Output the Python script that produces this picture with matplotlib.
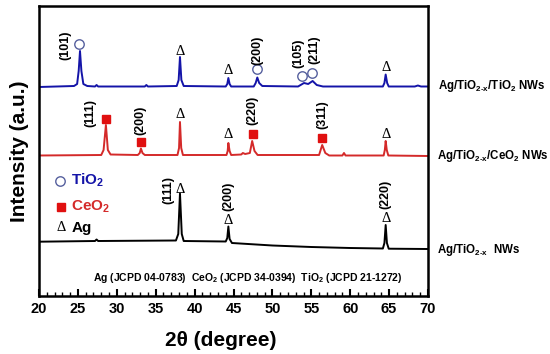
import matplotlib
matplotlib.use("Agg")
import matplotlib.pyplot as plt

plt.rcParams['font.family'] = ['Liberation Sans', 'DejaVu Sans']
plt.rcParams['font.weight'] = 'bold'
plt.rcParams['mathtext.fontset'] = 'custom'
plt.rcParams['mathtext.rm'] = 'Liberation Sans:bold'
plt.rcParams['mathtext.it'] = 'Liberation Sans:bold'
plt.rcParams['mathtext.bf'] = 'Liberation Sans:bold'

# ---------------- data (2theta in degree, intensity in a.u.) ----------------
blue_x = [20, 24.5, 24.9, 25.1, 25.27, 25.45, 25.7, 26.2, 27.2, 27.4, 27.6, 30, 33.6, 33.8, 34.0,
          37.7, 37.95, 38.12, 38.3, 38.6, 44.0, 44.2, 44.34, 44.5, 44.7, 47.6, 47.85, 48.06, 48.3,
          48.7, 53.3, 54.06, 54.6, 55.17, 55.7, 56.5, 64.2, 64.4, 64.56, 64.75, 64.95, 68.3, 68.7,
          69.1, 70]
blue_y = [209, 210, 212, 225, 245, 225, 212, 210, 209.5, 211, 209.5, 209.5, 209.5, 211, 209.5,
          210, 216, 239, 216, 210, 209.5, 212, 218, 212, 209.5, 209.5, 213, 218.5, 213,
          210, 209.5, 213, 212, 215, 211, 209.5, 209.5, 213, 221.5, 213, 209.5, 209.5, 210.5,
          209.5, 209.5]

red_x = [20, 28.0, 28.3, 28.6, 28.85, 29.2, 32.7, 32.95, 33.1, 33.3, 33.6, 37.8, 38.0, 38.12,
         38.28, 38.5, 44.1, 44.25, 44.34, 44.5, 44.7, 46.0, 46.2, 46.5, 47.1, 47.4, 47.7, 48.1,
         56.0, 56.4, 56.8, 57.3, 59.0, 59.2, 59.4, 64.3, 64.45, 64.56, 64.7, 64.9, 70]
red_y = [140.5, 141, 146, 171, 146, 141.5, 141, 143, 147.5, 143, 141, 141, 148, 174,
         148, 141, 141, 145, 153, 145, 141, 141.5, 143, 142, 143, 155, 145, 141,
         141, 151, 143, 140.5, 140.5, 143, 140.5, 140.5, 146, 155, 146, 140.5, 140]

black_x = [20, 27.2, 27.4, 27.6, 37.6, 37.9, 38.12, 38.35, 38.6, 44.0, 44.2, 44.34, 44.5, 44.8,
           50, 55, 60, 64.2, 64.4, 64.56, 64.72, 64.95, 70]
black_y = [54.3, 55, 56.5, 55, 55.5, 62, 102.5, 62, 55, 54.5, 58, 69.5, 57, 53,
           50.5, 49, 48, 47.5, 53, 71, 53, 47.3, 47]

# peak markers: (2theta, height)
blue_circles_x = [25.18, 48.06, 53.77, 55.13]
blue_circles_y = [252, 226.7, 220, 222.7]
blue_ag_x = [38.12, 44.34, 64.56]
blue_ag_y = [244.3, 225.3, 228.3]
blue_hkl = ["(101)", "(200)", "(105)", "(211)"]
blue_hkl_x = [23.34, 48.06, 53.38, 55.35]
blue_hkl_y = [251, 246, 242.7, 246]

red_sq_x = [28.6, 33.1, 47.47, 56.41]
red_sq_y = [177, 154, 162, 158]
red_ag_x = [38.12, 44.34, 64.56]
red_ag_y = [181, 161, 161]
red_hkl = ["(111)", "(200)", "(220)", "(311)"]
red_hkl_x = [26.56, 33.0, 47.47, 56.41]
red_hkl_y = [182.7, 176, 186, 181]

black_ag_x = [38.2, 44.34, 64.56]
black_ag_y = [106.7, 75, 77.7]
black_hkl = ["(111)", "(200)", "(220)"]
black_hkl_x = [36.62, 44.34, 64.56]
black_hkl_y = [106, 100, 102]

xticks = [20, 25, 30, 35, 40, 45, 50, 55, 60, 65, 70]

BLUE = '#1414a8'
RED = '#d42a2a'
CIRC = '#56609e'

fig = plt.figure(figsize=(5.5, 3.54), dpi=100)
ax = fig.add_axes([39/550, (354-296)/354, (428-39)/550, 290/354])

ax.plot(blue_x, blue_y, color=BLUE, lw=1.4)
ax.plot(red_x, red_y, color=RED, lw=1.4)
ax.plot(black_x, black_y, color='black', lw=1.4)

ax.plot(blue_circles_x, blue_circles_y, 'o', ms=6.8, mfc='none', mec=CIRC, mew=1.0)
ax.plot(red_sq_x, red_sq_y, 's', ms=5.5, mfc='#e01010', mec='#e01010')

tri_kw = dict(ha='center', va='center', fontsize=10.5, family='Liberation Serif', fontweight='normal')
for xs, ys in [(blue_ag_x, blue_ag_y), (red_ag_x, red_ag_y), (black_ag_x, black_ag_y)]:
    for x, y in zip(xs, ys):
        ax.text(x, y, "Δ", **tri_kw)

hkl_kw = dict(ha='center', va='center', rotation=90, fontsize=9, fontweight='bold')
for labs, xs, ys in [(blue_hkl, blue_hkl_x, blue_hkl_y), (red_hkl, red_hkl_x, red_hkl_y),
                     (black_hkl, black_hkl_x, black_hkl_y)]:
    for t, x, y in zip(labs, xs, ys):
        ax.text(x, y, t, **hkl_kw)

# in-plot legend
ax.plot([0.054], [0.398], 'o', ms=6.8, mfc='none', mec=CIRC, mew=1.0, transform=ax.transAxes)
ax.text(0.081, 0.398, "TiO$_2$", color=BLUE, fontsize=11, fontweight='bold', va='center',
        transform=ax.transAxes)
ax.plot([0.056], [0.308], 's', ms=5.5, mfc='#e01010', mec='#e01010', transform=ax.transAxes)
ax.text(0.081, 0.308, "CeO$_2$", color=RED, fontsize=11, fontweight='bold', va='center',
        transform=ax.transAxes)
ax.text(0.056, 0.236, "Δ", transform=ax.transAxes, **tri_kw)
ax.text(0.084, 0.236, "Ag", color='black', fontsize=11, fontweight='bold', va='center',
        transform=ax.transAxes)

ax.text(0.138, 0.062, "Ag (JCPD 04-0783)  CeO$_2$ (JCPD 34-0394)  TiO$_2$ (JCPD 21-1272)",
        fontsize=7.5, fontweight='bold', va='center', ha='left', transform=ax.transAxes)

ax.set_xlim(20, 70)
ax.set_ylim(0, 290)
ax.set_xticks(xticks)
ax.set_xticks(range(20, 71), minor=True)
ax.set_yticks([])
ax.tick_params(axis='x', which='major', direction='in', length=5, width=1.5, labelsize=10.5, pad=4)
ax.tick_params(axis='x', which='minor', direction='in', length=3, width=1.0)
for lab in ax.get_xticklabels():
    lab.set_fontweight('bold')
for s in ax.spines.values():
    s.set_linewidth(1.8)

fig.text(221/550, 1-340/354, "2θ (degree)", fontsize=15, fontweight='bold', ha='center', va='center')
fig.text(20/550, 1-151.5/354, "Intensity (a.u.)", fontsize=15, fontweight='bold', ha='center',
         va='center', rotation=90)

lab_kw = dict(fontsize=8.3, fontweight='bold', ha='left', va='center')
fig.text(438/550, 1-86/354, r"Ag/TiO$_{2\text{-}x}$/TiO$_2$ NWs", **lab_kw)
fig.text(437/550, 1-156/354, r"Ag/TiO$_{2\text{-}x}$/CeO$_2$ NWs", **lab_kw)
fig.text(437/550, 1-250/354, r"Ag/TiO$_{2\text{-}x}$  NWs", **lab_kw)

fig.savefig("out.png", dpi=100)
